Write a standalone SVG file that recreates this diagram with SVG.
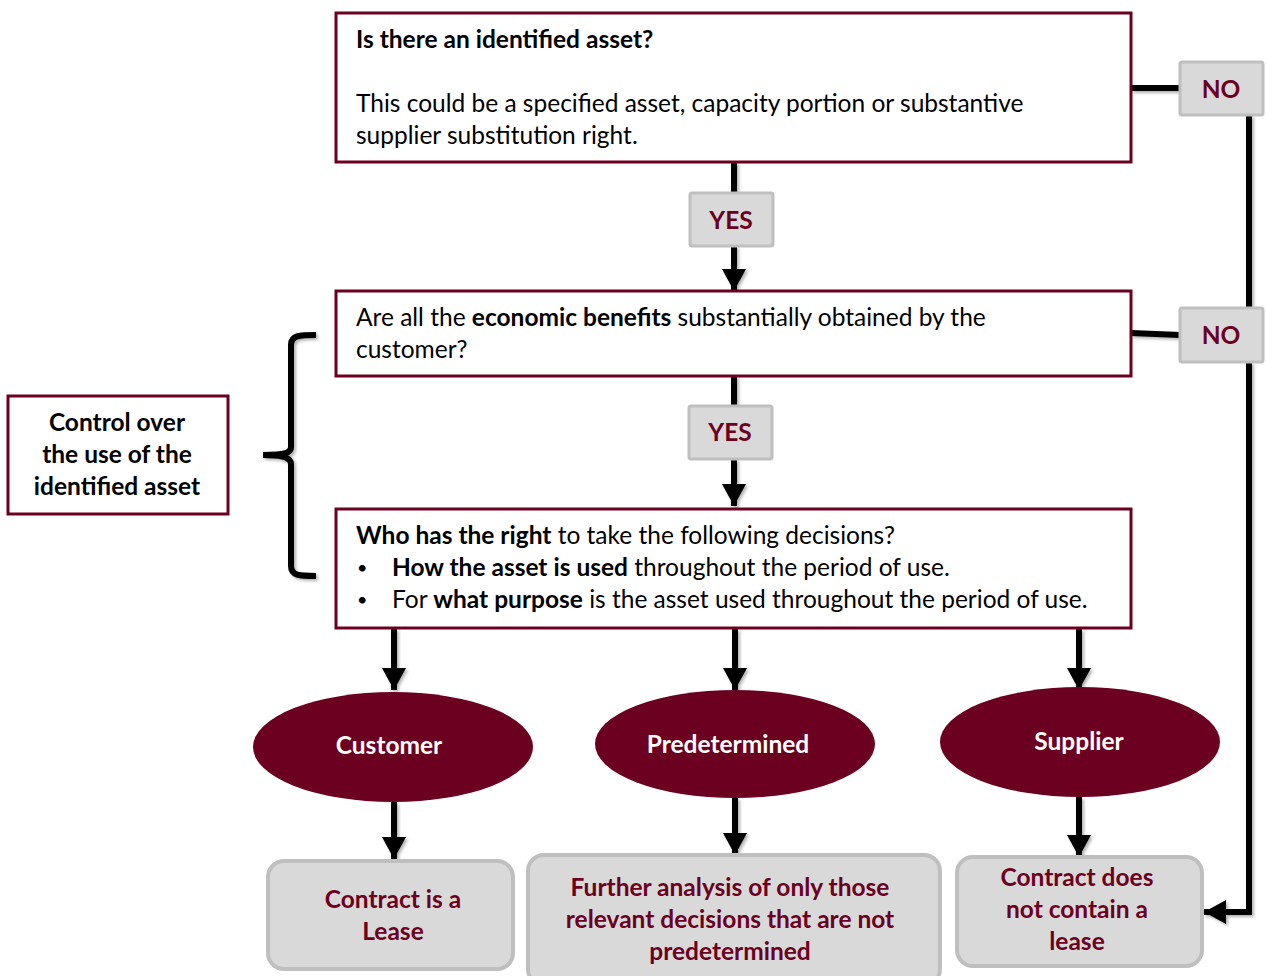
<svg xmlns="http://www.w3.org/2000/svg" width="1266" height="976" viewBox="0 0 1266 976">
<defs>
<marker id="ah" markerUnits="userSpaceOnUse" markerWidth="24" markerHeight="24" refX="22" refY="12" orient="auto">
<path d="M0,0 L22,12 L0,24 Z" fill="#000"/>
</marker>
<filter id="sh" x="-10%" y="-10%" width="130%" height="130%">
<feDropShadow dx="2" dy="2" stdDeviation="1.5" flood-color="#000" flood-opacity="0.3"/>
</filter>
</defs>
<style>
text{font-family:Lato,"Open Sans","Liberation Sans",sans-serif;}
.q{fill:#fff;stroke:#6B0020;stroke-width:3;}
.lbl{fill:#d9d9d9;stroke:#bfbfbf;stroke-width:3;}
.end{fill:#d9d9d9;stroke:#bfbfbf;stroke-width:4;}
.ell{fill:#6B0020;}
.t{font-size:24.5px;fill:#000;}
.bul{font-size:18px;fill:#000;}
.b{font-weight:bold;}
.lt{font-size:24.5px;font-weight:bold;fill:#6B0020;text-anchor:middle;}
.et{font-size:24.5px;font-weight:bold;fill:#fff;text-anchor:middle;}
.c{stroke:#000;stroke-width:6;fill:none;}
</style>
<g id="connectors" filter="url(#sh)">
<line class="c" x1="734" y1="162" x2="734" y2="193"/>
<line class="c" x1="734" y1="246" x2="734" y2="291" marker-end="url(#ah)"/>
<line class="c" x1="734" y1="376" x2="734" y2="406"/>
<line class="c" x1="734" y1="459" x2="734" y2="506" marker-end="url(#ah)"/>
<line class="c" x1="1131" y1="88" x2="1180" y2="88"/>
<line class="c" x1="1131" y1="333" x2="1180" y2="335"/>
<line class="c" x1="1249" y1="115" x2="1249" y2="308"/>
<polyline class="c" points="1249,362 1249,912 1204,912" marker-end="url(#ah)"/>
<line class="c" x1="394" y1="629" x2="394" y2="690" marker-end="url(#ah)"/>
<line class="c" x1="735" y1="629" x2="735" y2="690" marker-end="url(#ah)"/>
<line class="c" x1="1079" y1="629" x2="1079" y2="690" marker-end="url(#ah)"/>
<line class="c" x1="394" y1="802" x2="394" y2="859" marker-end="url(#ah)"/>
<line class="c" x1="735" y1="798" x2="735" y2="855" marker-end="url(#ah)"/>
<line class="c" x1="1079" y1="797" x2="1079" y2="857" marker-end="url(#ah)"/>
<path class="c" d="M316,335 C300,335 291,335 291,345 L291,447 C291,453 285,455 263,455 C285,455 291,458 291,464 L291,566 C291,576 300,576 316,576"/>
</g>
<g id="q1">
<rect class="q" x="336" y="13" width="795" height="149"/>
<text class="t b" x="356" y="48">Is there an identified asset?</text>
<text class="t" x="356" y="112">This could be a specified asset, capacity portion or substantive</text>
<text class="t" x="356" y="144">supplier substitution right.</text>
</g>
<g id="q2">
<rect class="q" x="336" y="291" width="795" height="85"/>
<text class="t" x="356" y="326">Are all the <tspan class="b">economic benefits</tspan> substantially obtained by the</text>
<text class="t" x="356" y="358">customer?</text>
</g>
<g id="q3">
<rect class="q" x="336" y="509" width="795" height="119"/>
<text class="t" x="356" y="544"><tspan class="b">Who has the right</tspan> to take the following decisions?</text>
<text class="bul" x="357" y="574">•</text>
<text class="t" x="392" y="576"><tspan class="b">How the asset is used</tspan> throughout the period of use.</text>
<text class="bul" x="357" y="606">•</text>
<text class="t" x="392" y="608">For <tspan class="b">what purpose</tspan> is the asset used throughout the period of use.</text>
</g>
<g id="control">
<rect class="q" x="8" y="396" width="220" height="118"/>
<text class="lt" x="117" y="431" style="fill:#000">Control over</text>
<text class="lt" x="117" y="463" style="fill:#000">the use of the</text>
<text class="lt" x="117" y="495" style="fill:#000">identified asset</text>
</g>
<g id="no1">
<rect class="lbl" x="1180" y="62" width="83" height="53" rx="2"/>
<text class="lt" x="1221" y="98">NO</text>
</g>
<g id="no2">
<rect class="lbl" x="1180" y="308" width="83" height="54" rx="2"/>
<text class="lt" x="1221" y="344">NO</text>
</g>
<g id="yes1">
<rect class="lbl" x="690" y="193" width="83" height="53" rx="2"/>
<text class="lt" x="731" y="229">YES</text>
</g>
<g id="yes2">
<rect class="lbl" x="689" y="406" width="83" height="53" rx="2"/>
<text class="lt" x="730" y="441">YES</text>
</g>
<g id="customer">
<ellipse class="ell" cx="393" cy="747" rx="140" ry="55"/>
<text class="et" x="389" y="754">Customer</text>
</g>
<g id="predetermined">
<ellipse class="ell" cx="735" cy="744" rx="140" ry="54"/>
<text class="et" x="728" y="753">Predetermined</text>
</g>
<g id="supplier">
<ellipse class="ell" cx="1080" cy="742" rx="140" ry="55"/>
<text class="et" x="1079" y="750">Supplier</text>
</g>
<g id="lease">
<rect class="end" x="268" y="861" width="245" height="108" rx="16"/>
<text class="lt" x="393" y="908">Contract is a</text>
<text class="lt" x="393" y="940">Lease</text>
</g>
<g id="further">
<rect class="end" x="528" y="855" width="412" height="130" rx="16"/>
<text class="lt" x="730" y="896">Further analysis of only those</text>
<text class="lt" x="730" y="928">relevant decisions that are not</text>
<text class="lt" x="730" y="960">predetermined</text>
</g>
<g id="nolease">
<rect class="end" x="957" y="857" width="245" height="109" rx="16"/>
<text class="lt" x="1077" y="886">Contract does</text>
<text class="lt" x="1077" y="918">not contain a</text>
<text class="lt" x="1077" y="950">lease</text>
</g>
</svg>
